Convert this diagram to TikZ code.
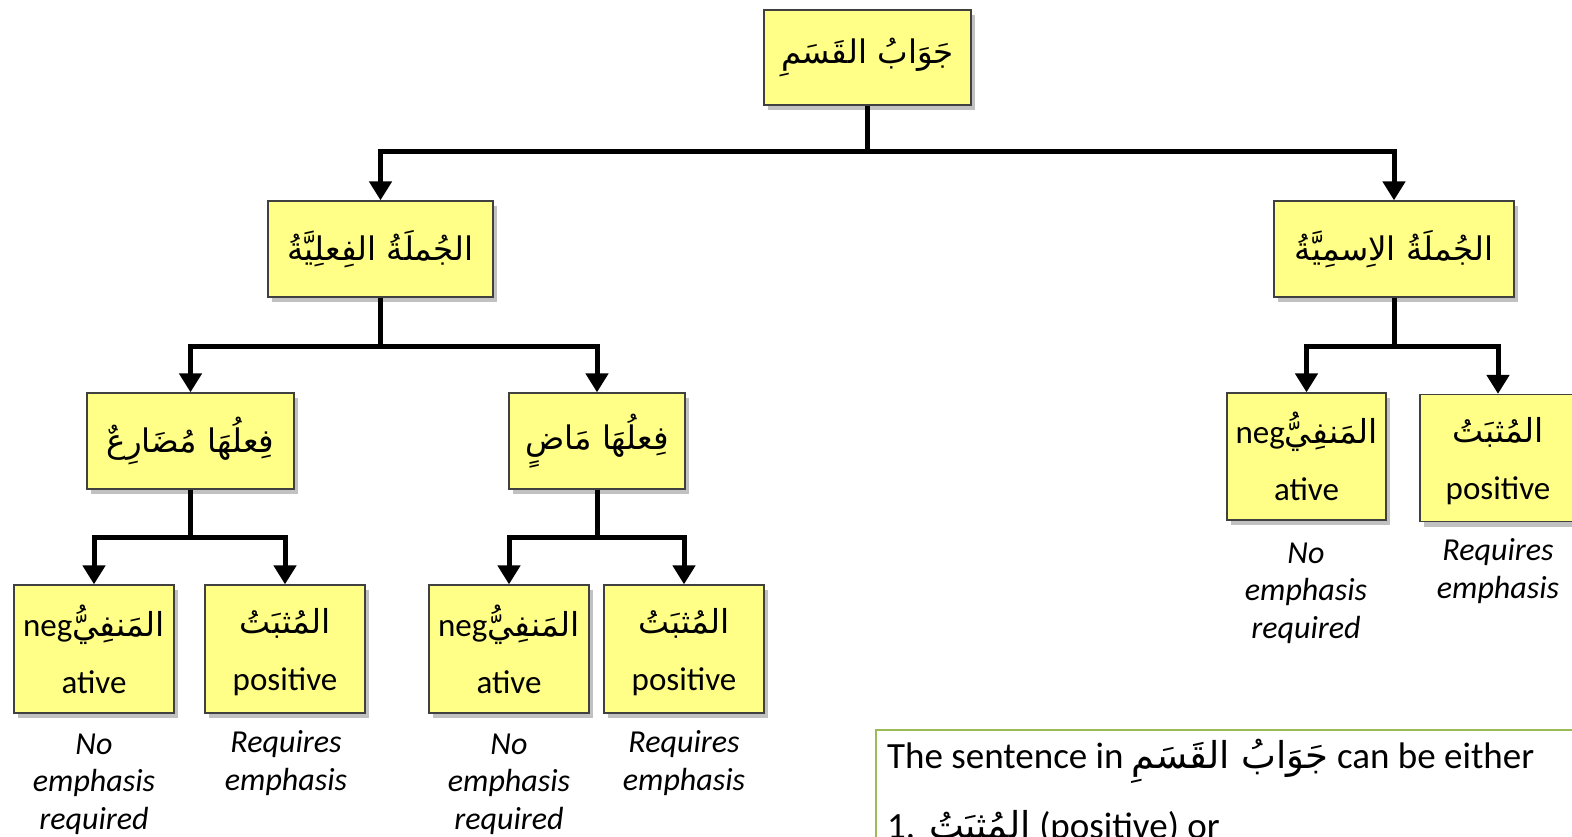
\documentclass[tikz,border=0pt]{standalone}
\usepackage{fontspec}
\setmainfont{Carlito}
\newfontfamily\arabicfont[Script=Arabic]{DejaVu Sans}
\TeXXeTstate=1
\usetikzlibrary{arrows.meta,shadows}
\newcommand{\arabtxt}[1]{{\arabicfont\beginR #1\endR}}
\newcommand{\negph}{\vphantom{\arabtxt{المَنفِيُّ}}}
\definecolor{boxyellow}{RGB}{255,255,136}
\definecolor{notegreen}{RGB}{155,187,89}
\begin{document}
\begin{tikzpicture}[x=1pt,y=-1pt,
  box/.style={draw=black!75, line width=1.3pt, fill=boxyellow, inner sep=0pt, align=center,
    drop shadow={shadow xshift=4pt,shadow yshift=-5pt,opacity=0.4,fill=black!60}},
  arbig/.style={font=\fontsize{32.5}{38}\selectfont},
  two/.style={font=\fontsize{33}{57}\selectfont},
  conn/.style={line width=5pt, draw=black, line join=miter},
  arr/.style={conn, -{Triangle[width=22pt,length=19pt]}},
  lab/.style={font=\fontsize{32}{37.5}\selectfont\itshape, align=center, inner sep=0pt},
  ntext/.style={font=\fontsize{37}{44}\selectfont, inner sep=0pt, anchor=base west}]
\clip (0,0) rectangle (1572,837);
\fill[white] (0,0) rectangle (1572,837);
\useasboundingbox (0,0) rectangle (1572,837);

% boxes
\node[box, arbig, minimum width=207, minimum height=95] (top) at (867.5,57.5) {\arabtxt{جَوَابُ القَسَمِ}};
\node[box, arbig, minimum width=225, minimum height=96] (fil) at (380.5,249) {\arabtxt{الجُملَةُ الفِعلِيَّةُ}};
\node[box, arbig, minimum width=240, minimum height=96] (ism) at (1394,249) {\arabtxt{الجُملَةُ الاِسمِيَّةُ}};
\node[box, arbig, minimum width=207, minimum height=96] (mud) at (190.5,441) {\arabtxt{فِعلُهَا مُضَارِعٌ}};
\node[box, arbig, minimum width=176, minimum height=96] (madi) at (597,441) {\arabtxt{فِعلُهَا مَاضٍ}};

\node[box, two, minimum width=159, minimum height=127] (rneg) at (1306.5,456.5) {neg\arabtxt{المَنفِيُّ}\\ative};
\node[box, two, minimum width=156, minimum height=127] (rpos) at (1498,458) {\negph\arabtxt{المُثبَتُ}\\positive};

\node[box, two, minimum width=160, minimum height=128] (lneg) at (94,649) {neg\arabtxt{المَنفِيُّ}\\ative};
\node[box, two, minimum width=160, minimum height=128] (lpos) at (285,649) {\negph\arabtxt{المُثبَتُ}\\positive};
\node[box, two, minimum width=160, minimum height=128] (mneg) at (509,649) {neg\arabtxt{المَنفِيُّ}\\ative};
\node[box, two, minimum width=160, minimum height=128] (mpos) at (684,649) {\negph\arabtxt{المُثبَتُ}\\positive};

% connectors
\coordinate (j0) at (867.5,152);
\coordinate (j1) at (380.5,346);
\coordinate (j2) at (1394,346);
\coordinate (j3) at (190.5,537);
\coordinate (j4) at (597,537);
\draw[conn] (top.south) -- (j0);
\draw[arr] (j0) -| (fil.north);
\draw[arr] (j0) -| (ism.north);
\draw[conn] (fil.south) -- (j1);
\draw[arr] (j1) -| (mud.north);
\draw[arr] (j1) -| (madi.north);
\draw[conn] (ism.south) -- (j2);
\draw[arr] (j2) -| (rneg.north);
\draw[arr] (j2) -| (rpos.north);
\draw[conn] (mud.south) -- (j3);
\draw[arr] (j3) -| (lneg.north);
\draw[arr] (j3) -| (lpos.north);
\draw[conn] (madi.south) -- (j4);
\draw[arr] (j4) -| (mneg.north);
\draw[arr] (j4) -| (mpos.north);

% labels
\node[lab] (lneglab) at (94,784) {No\\emphasis\\required};
\node[lab] (lposlab) at (286,763) {Requires\\emphasis};
\node[lab] (mneglab) at (509,784) {No\\emphasis\\required};
\node[lab] (mposlab) at (684,763) {Requires\\emphasis};
\node[lab] (rneglab) at (1306,593) {No\\emphasis\\required};
\node[lab] (rposlab) at (1498,571) {Requires\\emphasis};

% note box
\node[draw=notegreen, line width=2pt, anchor=north west, minimum width=720, minimum height=140, inner sep=0pt] (note) at (875,729) {};
\node[ntext] (note1) at (887,768) {The sentence in \arabtxt{جَوَابُ القَسَمِ} can be either};
\node[ntext] (note2) at (887,838) {1.\hspace{14pt}\arabtxt{المُثبَتُ} (positive) or};
\end{tikzpicture}
\end{document}
